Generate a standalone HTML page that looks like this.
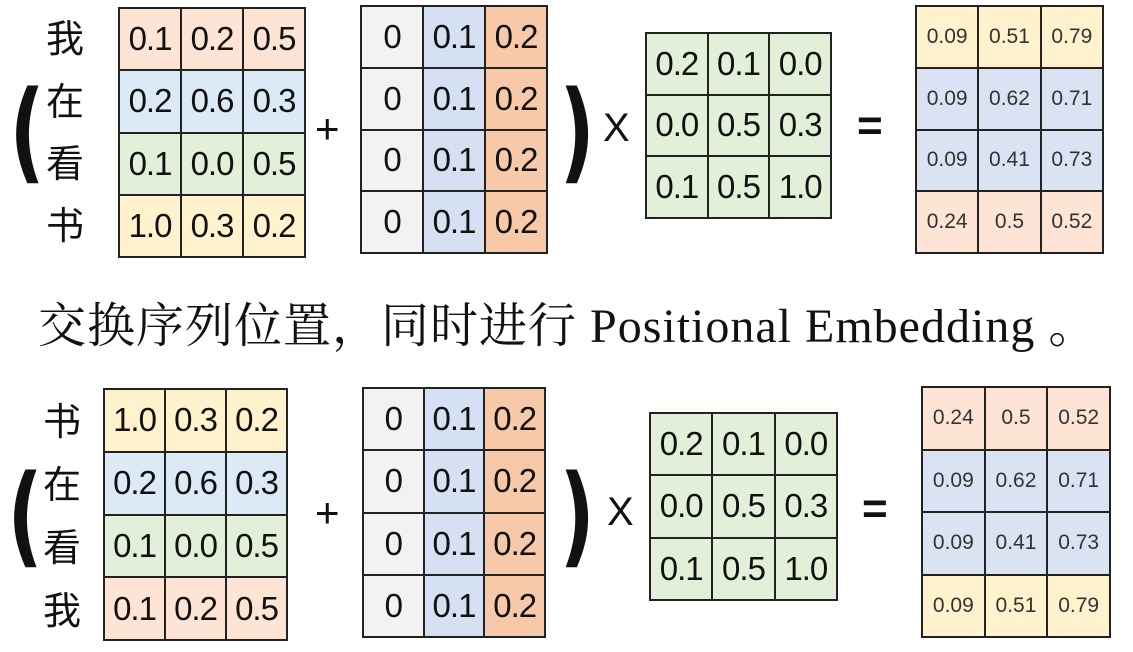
<!DOCTYPE html>
<html><head><meta charset="utf-8"><style>
body{margin:0;width:1133px;height:652px;background:#fff;position:relative;overflow:hidden;font-family:"Liberation Sans","Noto Sans CJK SC",sans-serif;color:#111}
table{position:absolute;border-collapse:collapse;table-layout:fixed}
td{border:2px solid #222;text-align:center;padding:0;font-size:33px;letter-spacing:-1px}
table.r td{font-size:21px;letter-spacing:0;color:#333}
.o{background:#fde4d5}.b{background:#dce9f7}.g{background:#e2efd9}.y{background:#fff2cc}
.w{background:#f2f2f2}.bc{background:#d6e0f3}.oc{background:#f8c9a8}.rb{background:#dae3f3}
.a{position:absolute;line-height:1}
.ch{position:absolute;font-size:38px;font-family:"Noto Sans CJK SC",sans-serif;line-height:1}
.par{position:absolute;font-size:110px;font-weight:bold;line-height:1;font-family:"DejaVu Sans",sans-serif;transform:scaleX(0.7)}
</style></head><body>

<!-- TOP -->
<div class="ch" style="left:46px;top:17px">我</div>
<div class="ch" style="left:46px;top:80px">在</div>
<div class="ch" style="left:46px;top:142px">看</div>
<div class="ch" style="left:46px;top:204px">书</div>
<div class="par" style="left:2px;top:76px">(</div>
<table style="left:118px;top:7px;width:188px;height:251px">
<tr class="o"><td>0.1</td><td>0.2</td><td>0.5</td></tr>
<tr class="b"><td>0.2</td><td>0.6</td><td>0.3</td></tr>
<tr class="g"><td>0.1</td><td>0.0</td><td>0.5</td></tr>
<tr class="y"><td>1.0</td><td>0.3</td><td>0.2</td></tr>
</table>
<div class="a" style="left:315px;top:108px;font-size:42px">+</div>
<table style="left:360px;top:5px;width:188px;height:249px">
<tr><td class="w">0</td><td class="bc">0.1</td><td class="oc">0.2</td></tr>
<tr><td class="w">0</td><td class="bc">0.1</td><td class="oc">0.2</td></tr>
<tr><td class="w">0</td><td class="bc">0.1</td><td class="oc">0.2</td></tr>
<tr><td class="w">0</td><td class="bc">0.1</td><td class="oc">0.2</td></tr>
</table>
<div class="par" style="left:552px;top:76px">)</div>
<div class="a" style="left:603px;top:108px;font-size:40px">X</div>
<table style="left:645px;top:32px;width:187px;height:187px" class="g">
<tr><td>0.2</td><td>0.1</td><td>0.0</td></tr>
<tr><td>0.0</td><td>0.5</td><td>0.3</td></tr>
<tr><td>0.1</td><td>0.5</td><td>1.0</td></tr>
</table>
<div class="a" style="left:857px;top:104px;font-size:44px;font-weight:bold">=</div>
<table class="r" style="left:915px;top:5px;width:189px;height:249px">
<tr class="y"><td>0.09</td><td>0.51</td><td>0.79</td></tr>
<tr class="rb"><td>0.09</td><td>0.62</td><td>0.71</td></tr>
<tr class="rb"><td>0.09</td><td>0.41</td><td>0.73</td></tr>
<tr class="o"><td>0.24</td><td>0.5</td><td>0.52</td></tr>
</table>

<!-- TEXT -->
<div class="a" style="left:38px;top:303px;font-size:48px;letter-spacing:1px;font-family:'Liberation Serif','Noto Serif CJK SC',serif;white-space:nowrap">交换序列位置，同时进行 Positional Embedding 。</div>

<!-- BOTTOM -->
<div class="ch" style="left:43px;top:400px">书</div>
<div class="ch" style="left:43px;top:463px">在</div>
<div class="ch" style="left:43px;top:526px">看</div>
<div class="ch" style="left:43px;top:589px">我</div>
<div class="par" style="left:0px;top:460px">(</div>
<table style="left:103px;top:388px;width:185px;height:253px">
<tr class="y"><td>1.0</td><td>0.3</td><td>0.2</td></tr>
<tr class="b"><td>0.2</td><td>0.6</td><td>0.3</td></tr>
<tr class="g"><td>0.1</td><td>0.0</td><td>0.5</td></tr>
<tr class="o"><td>0.1</td><td>0.2</td><td>0.5</td></tr>
</table>
<div class="a" style="left:315px;top:492px;font-size:42px">+</div>
<table style="left:362px;top:387px;width:184px;height:251px">
<tr><td class="w">0</td><td class="bc">0.1</td><td class="oc">0.2</td></tr>
<tr><td class="w">0</td><td class="bc">0.1</td><td class="oc">0.2</td></tr>
<tr><td class="w">0</td><td class="bc">0.1</td><td class="oc">0.2</td></tr>
<tr><td class="w">0</td><td class="bc">0.1</td><td class="oc">0.2</td></tr>
</table>
<div class="par" style="left:552px;top:460px">)</div>
<div class="a" style="left:607px;top:492px;font-size:40px">X</div>
<table style="left:649px;top:412px;width:189px;height:189px" class="g">
<tr><td>0.2</td><td>0.1</td><td>0.0</td></tr>
<tr><td>0.0</td><td>0.5</td><td>0.3</td></tr>
<tr><td>0.1</td><td>0.5</td><td>1.0</td></tr>
</table>
<div class="a" style="left:862px;top:487px;font-size:44px;font-weight:bold">=</div>
<table class="r" style="left:921px;top:386px;width:190px;height:252px">
<tr class="o"><td>0.24</td><td>0.5</td><td>0.52</td></tr>
<tr class="rb"><td>0.09</td><td>0.62</td><td>0.71</td></tr>
<tr class="rb"><td>0.09</td><td>0.41</td><td>0.73</td></tr>
<tr class="y"><td>0.09</td><td>0.51</td><td>0.79</td></tr>
</table>
</body></html>
